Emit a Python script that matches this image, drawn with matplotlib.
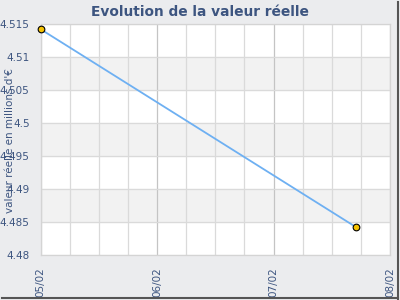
import matplotlib
matplotlib.use("Agg")
import matplotlib.pyplot as plt
from matplotlib.ticker import MultipleLocator
from matplotlib.lines import Line2D

# data (x in months since 05/02)
months = [0.0, 2.71]
values = [4.5142, 4.4842]
tick_labels = ["05/02", "06/02", "07/02", "08/02"]
y_ticks = [4.48, 4.485, 4.49, 4.495, 4.5, 4.505, 4.51, 4.515]

bg = "#ebecee"
text_col = "#3d5580"
grid_col = "#dadada"

fig = plt.figure(figsize=(4, 3), dpi=100, facecolor=bg)
ax = fig.add_axes([0.1018, 0.15, 0.8732, 0.77])
ax.set_facecolor("white")

# alternating horizontal bands
for i in range(len(y_ticks) - 1):
    if i % 2 == 1:
        ax.axhspan(y_ticks[i], y_ticks[i + 1], color="#f2f2f2", zorder=0)

ax.set_xlim(0, 3)
ax.set_ylim(y_ticks[0], y_ticks[-1])
ax.set_xticks(range(len(tick_labels)))
ax.set_xticklabels(tick_labels, rotation=90)
ax.xaxis.set_minor_locator(MultipleLocator(0.25))
ax.set_yticks(y_ticks)
ax.set_yticklabels([("%g" % v) for v in y_ticks])

ax.grid(True, which="minor", axis="x", color=grid_col, lw=0.9, zorder=1)
ax.grid(True, which="major", axis="x", color="#c4c4c4", lw=0.9, zorder=1)
ax.grid(True, which="major", axis="y", color=grid_col, lw=0.9, zorder=1)
ax.set_axisbelow(True)

ax.tick_params(axis="both", which="both", length=0, colors=text_col, labelsize=7.5)
ax.tick_params(axis="y", pad=8)
ax.tick_params(axis="x", pad=9)
for s in ax.spines.values():
    s.set_color("#d4d4d4")
    s.set_linewidth(0.9)

ax.plot(months, values, color="#6eb0f2", lw=1.3, zorder=3)
ax.plot(months, values, "o", ms=4.8, mfc="#f5c200", mec="black", mew=0.8,
        clip_on=False, zorder=4)

fig.text(0.5, 0.96, "Evolution de la valeur réelle", ha="center", va="center",
         fontsize=9.9, fontweight="bold", color=text_col)
fig.text(0.026, 0.53, "valeur réelle en millions d'€", rotation=90,
         ha="center", va="center", fontsize=7.5, color=text_col)

# dark frame on right and bottom
fig.add_artist(Line2D([0.995, 0.995], [0.005, 0.995], transform=fig.transFigure,
                      color="#555555", lw=1.5))
fig.add_artist(Line2D([0.005, 0.995], [0.006, 0.006], transform=fig.transFigure,
                      color="#555555", lw=1.5))

fig.savefig("out.png", dpi=100, facecolor=bg)
